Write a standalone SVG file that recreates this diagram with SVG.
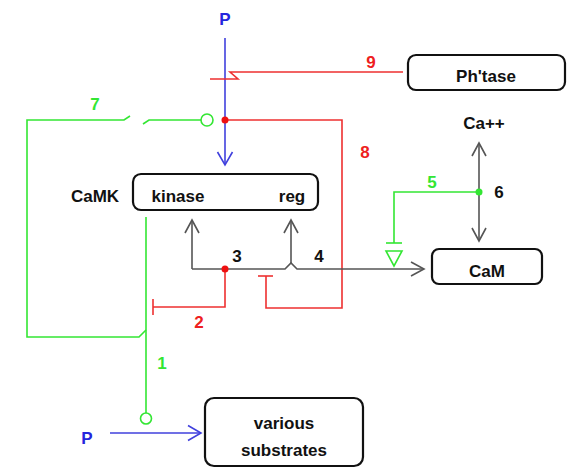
<svg xmlns="http://www.w3.org/2000/svg" width="570" height="468" viewBox="0 0 570 468">
<style>
text{font-family:"Liberation Sans",Arial,sans-serif;font-weight:bold;font-size:17px;text-anchor:middle}
.box{fill:#fff;stroke:#111;stroke-width:2.2}
.g{stroke:#33e633;fill:none;stroke-width:1.6}
.r{stroke:#ee3030;fill:none;stroke-width:1.6}
.b{stroke:#4040dd;fill:none;stroke-width:1.6}
.k{stroke:#555;fill:none;stroke-width:1.6}
.tg{fill:#33e633}.tr{fill:#ee2020}.tb{fill:#2525dd}.tk{fill:#111}
</style>
<defs>
<marker id="ak" markerUnits="userSpaceOnUse" markerWidth="20" markerHeight="20" refX="0" refY="0" viewBox="-14 -10 16 20" orient="auto" overflow="visible"><path d="M-13,-7 L0,0 L-13,7" fill="none" stroke="#555" stroke-width="1.6"/></marker>
<marker id="ab" markerUnits="userSpaceOnUse" markerWidth="20" markerHeight="20" refX="0" refY="0" viewBox="-14 -10 16 20" orient="auto" overflow="visible"><path d="M-13,-7.5 L0,0 L-13,7.5" fill="none" stroke="#4040dd" stroke-width="1.6"/></marker>
</defs>
<g id="connectors">
<path class="b" d="M225,38 V165" marker-end="url(#ab)"/>
<path class="b" d="M110,433 H201" marker-end="url(#ab)"/>
<path class="r" d="M403,72 H230 L238,79 H210"/>
<path class="r" d="M225,120 H342 V308 H266 V276"/>
<path class="r" d="M258,276 H273"/>
<circle cx="225" cy="120" r="3.5" fill="#ee1010"/>
<path class="g" d="M201,120 H149 L143,124"/>
<path class="g" d="M130,116 L124,120 H27 V337 H139 L146,330"/>
<circle cx="207" cy="120" r="6" class="g" fill="#fff"/>
<path class="g" d="M146,217 V413"/>
<circle cx="146" cy="418.5" r="5.5" class="g" fill="#fff"/>
<path class="k" d="M192,269 V220" marker-end="url(#ak)"/>
<path class="k" d="M291,263 V220" marker-end="url(#ak)"/>
<path class="k" d="M192,269 H285 L291,263 L297,269 H424" marker-end="url(#ak)"/>
<path class="r" d="M225,269 V307 H153"/>
<path class="r" d="M153,299 V315" stroke-width="2"/>
<circle cx="225" cy="269" r="3.5" fill="#ee1010"/>
<path class="k" d="M479,191 V143" marker-end="url(#ak)"/>
<path class="k" d="M479,191 V241" marker-end="url(#ak)"/>
<path class="g" d="M479,192 H394 V243"/>
<path class="g" d="M386,243 H402"/>
<path class="g" d="M386,251 H402 L394,266 Z"/>
<circle cx="479" cy="192" r="3.5" fill="#33e633"/>
</g>
<g id="camk">
<rect class="box" x="133" y="174" width="185" height="36" rx="8"/>
<text class="tk" x="95" y="202">CaMK</text>
<text class="tk" x="178" y="202">kinase</text>
<text class="tk" x="292" y="202">reg</text>
</g>
<g id="phtase">
<rect class="box" x="408" y="55" width="157" height="35" rx="8"/>
<text class="tk" x="486" y="82">Ph'tase</text>
</g>
<g id="cam">
<rect class="box" x="432" y="249" width="110" height="35" rx="7"/>
<text class="tk" x="487" y="277">CaM</text>
</g>
<g id="substrates">
<rect class="box" x="205" y="398" width="158" height="68" rx="9"/>
<text class="tk" x="284" y="429">various</text>
<text class="tk" x="284" y="456">substrates</text>
</g>
<g id="ca">
<text class="tk" x="484" y="129">Ca++</text>
</g>
<g id="labels">
<text class="tb" x="225" y="25">P</text>
<text class="tb" x="87" y="444">P</text>
<text class="tg" x="95" y="110">7</text>
<text class="tr" x="371" y="68">9</text>
<text class="tr" x="365" y="158">8</text>
<text class="tg" x="432" y="188">5</text>
<text class="tk" x="499" y="198">6</text>
<text class="tk" x="237" y="262">3</text>
<text class="tk" x="319" y="262">4</text>
<text class="tr" x="199" y="328">2</text>
<text class="tg" x="162" y="369">1</text>
</g>
</svg>
